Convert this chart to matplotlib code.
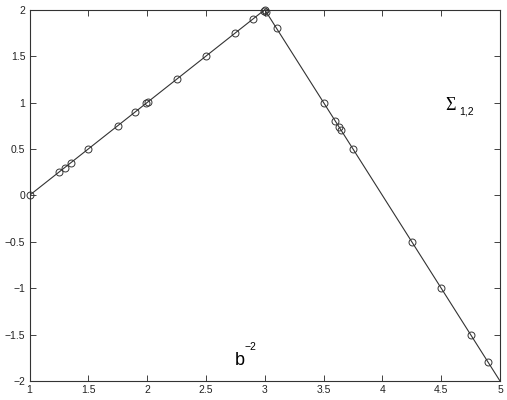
import matplotlib
matplotlib.use("Agg")
import matplotlib.pyplot as plt
import numpy as np

plt.rcParams['font.family'] = ['Liberation Sans', 'DejaVu Sans']

# Line vertices (piecewise linear)
line_x = [1.0, 3.0, 5.0]
line_y = [0.0, 2.0, -2.0]

# Marker points
pts_x = [1.0, 1.25, 1.3, 1.35, 1.5, 1.75, 1.9, 1.99, 2.01, 2.25, 2.5, 2.75, 2.9,
         2.99, 3.0, 3.01, 3.1, 3.5, 3.6, 3.63, 3.65, 3.75, 4.25, 4.5, 4.75, 4.9]
pts_y = [0.0, 0.25, 0.3, 0.35, 0.5, 0.75, 0.9, 0.99, 1.01, 1.25, 1.5, 1.75, 1.9,
         1.99, 2.0, 1.98, 1.8, 1.0, 0.8, 0.74, 0.7, 0.5, -0.5, -1.0, -1.5, -1.8]

xticks = [1, 1.5, 2, 2.5, 3, 3.5, 4, 4.5, 5]
yticks = [-2, -1.5, -1, -0.5, 0, 0.5, 1, 1.5, 2]

fig = plt.figure(figsize=(5.07, 4.0), dpi=100)
ax = fig.add_axes([29.5/507, 19/400, (500-29.5)/507, (381-9.7)/400])

ax.plot(line_x, line_y, color='#333333', lw=0.8)
ax.plot(pts_x, pts_y, linestyle='none', marker='o', ms=5, mfc='none',
        mec='#333333', mew=0.7, clip_on=False, zorder=3)

ax.set_xlim(1, 5)
ax.set_ylim(-2, 2)
ax.set_xticks(xticks)
ax.set_yticks(yticks)
ax.set_xticklabels([f"{t:g}" for t in xticks])
ax.set_yticklabels([f"{t:g}".replace('-', '\u2212') for t in yticks])
ax.tick_params(direction='in', top=True, right=True, labelsize=7.5, length=4,
               width=0.6, pad=3, colors='#222222')
for s in ax.spines.values():
    s.set_linewidth(0.8)
    s.set_color('#333333')

ax.text(4.533, 0.922, '\u03a3', fontsize=13, ha='left', va='baseline',
        family=['Liberation Serif', 'DejaVu Serif'])
ax.text(4.65, 0.87, '1,2', fontsize=7.5, ha='left', va='baseline')
ax.text(2.747, -1.83, 'b', fontsize=13, ha='left', va='baseline')
ax.text(2.832, -1.67, '\u22122', fontsize=7.5, ha='left', va='baseline')

fig.savefig('out.png', dpi=100)
